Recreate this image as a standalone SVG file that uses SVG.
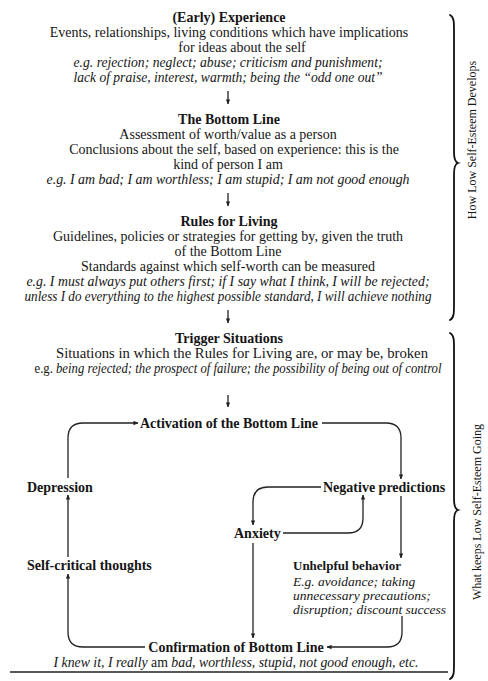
<svg xmlns="http://www.w3.org/2000/svg" width="488" height="681" viewBox="0 0 488 681">
<defs>
<style>
text{font-family:"Liberation Serif","Times New Roman",serif;font-size:14px;fill:#151515}
.c{text-anchor:middle}
.b{font-weight:bold}
.i{font-style:italic}
.n{font-style:normal}
.side{font-size:12px;text-anchor:middle}
.ln{fill:none;stroke:#222;stroke-width:1.3}
.br{fill:none;stroke:#111;stroke-width:1.8;stroke-linecap:round}
</style>
<marker id="ah" viewBox="0 0 6 6" refX="5.5" refY="3" markerWidth="5" markerHeight="5" orient="auto" markerUnits="userSpaceOnUse">
<path d="M0,0.4 L6,3 L0,5.6 z" fill="#222"/>
</marker>
</defs>
<rect width="488" height="681" fill="#fff"/>

<g id="experience">
<text class="c b" x="229" y="22">(Early) Experience</text>
<text class="c" x="229" y="37">Events, relationships, living conditions which have implications</text>
<text class="c" x="242" y="52">for ideas about the self</text>
<text class="c i" x="228" y="67" textLength="309" lengthAdjust="spacingAndGlyphs">e.g. rejection; neglect; abuse; criticism and punishment;</text>
<text class="c i" x="228" y="82" textLength="309" lengthAdjust="spacingAndGlyphs">lack of praise, interest, warmth; being the “odd one out”</text>
</g>

<g id="bottom-line">
<text class="c b" x="229" y="124">The Bottom Line</text>
<text class="c" x="228" y="139">Assessment of worth/value as a person</text>
<text class="c" x="234" y="154">Conclusions about the self, based on experience: this is the</text>
<text class="c" x="228" y="169">kind of person I am</text>
<text class="c i" x="228" y="184" textLength="363" lengthAdjust="spacingAndGlyphs">e.g. I am bad; I am worthless; I am stupid; I am not good enough</text>
</g>

<g id="rules">
<text class="c b" x="229" y="226">Rules for Living</text>
<text class="c" x="228" y="241">Guidelines, policies or strategies for getting by, given the truth</text>
<text class="c" x="228" y="256">of the Bottom Line</text>
<text class="c" x="228" y="271">Standards against which self-worth can be measured</text>
<text class="c i" x="228" y="286" textLength="403" lengthAdjust="spacingAndGlyphs">e.g. I must always put others first; if I say what I think, I will be rejected;</text>
<text class="c i" x="228" y="301" textLength="407" lengthAdjust="spacingAndGlyphs">unless I do everything to the highest possible standard, I will achieve nothing</text>
</g>

<g id="trigger">
<text class="c b" x="229" y="343">Trigger Situations</text>
<text class="c" x="242" y="358" textLength="372" lengthAdjust="spacingAndGlyphs">Situations in which the Rules for Living are, or may be, broken</text>
<text class="c i" x="238" y="373" textLength="407" lengthAdjust="spacingAndGlyphs"><tspan class="n">e.g.</tspan> being rejected; the prospect of failure; the possibility of being out of control</text>
</g>

<g id="activation"><text class="c b" x="229" y="428">Activation of the Bottom Line</text></g>
<g id="depression"><text class="b" x="27" y="492">Depression</text></g>
<g id="negative-predictions"><text class="b" x="323" y="492">Negative predictions</text></g>
<g id="anxiety"><text class="b" x="234" y="538">Anxiety</text></g>
<g id="self-critical"><text class="b" x="27" y="570">Self-critical thoughts</text></g>
<g id="unhelpful">
<text class="b" x="293" y="570" style="font-size:13px">Unhelpful behavior</text>
<text class="i" x="293" y="585.5" style="font-size:13.5px">E.g. avoidance; taking</text>
<text class="i" x="293" y="599.5" style="font-size:13.5px">unnecessary precautions;</text>
<text class="i" x="293" y="613.5" style="font-size:13.5px">disruption; discount success</text>
</g>
<g id="confirmation">
<text class="c b" x="236" y="652">Confirmation of Bottom Line</text>
<text class="c i" x="236" y="666.5" textLength="365" lengthAdjust="spacingAndGlyphs">I knew it, I really <tspan class="n">am</tspan> bad, worthless, stupid, not good enough, etc.</text>
</g>

<g id="connectors">
<path class="ln" d="M228,91 L228,104" marker-end="url(#ah)"/>
<path class="ln" d="M228,193 L228,206" marker-end="url(#ah)"/>
<path class="ln" d="M228,310 L228,323" marker-end="url(#ah)"/>
<path class="ln" d="M228,395 L228,407" marker-end="url(#ah)"/>
<path class="ln" d="M68,478 L68,438 Q68,423 83,423 L138,423" marker-end="url(#ah)"/>
<path class="ln" d="M68,557 L68,495" marker-end="url(#ah)"/>
<path class="ln" d="M145,647 L83,647 Q68,647 68,632 L68,574" marker-end="url(#ah)"/>
<path class="ln" d="M322,423 L386,423 Q401,423 401,438 L401,479" marker-end="url(#ah)"/>
<path class="ln" d="M401,496 L401,558" marker-end="url(#ah)"/>
<path class="ln" d="M402,616 L402,632 Q402,647 387,647 L327,647" marker-end="url(#ah)"/>
<path class="ln" d="M321,487 L268,487 Q253,487 253,502 L253,525" marker-end="url(#ah)"/>
<path class="ln" d="M283,533 L348,533 Q363,533 363,518 L363,495" marker-end="url(#ah)"/>
<path class="ln" d="M253,543 L253,638" marker-end="url(#ah)"/>
</g>

<g id="rule"><path d="M10,672 L448,672" stroke="#222" stroke-width="1.5"/></g>

<g id="brace-develops">
<path class="br" d="M450,15 C454,17 454,22 454,30 L454,152 C454,159 455,162 458,163 C455,164 454,167 454,174 L454,305 C454,313 454,318 450,320"/>
<text class="side" transform="translate(476,140) rotate(-90)">How Low Self-Esteem Develops</text>
</g>
<g id="brace-going">
<path class="br" d="M450,333 C454,335 454,340 454,348 L454,499 C454,506 455,509 458,510 C455,511 454,514 454,521 L454,664 C454,672 454,677 450,679"/>
<text class="side" transform="translate(481,512) rotate(-90)">What keeps Low Self-Esteem Going</text>
</g>
</svg>
